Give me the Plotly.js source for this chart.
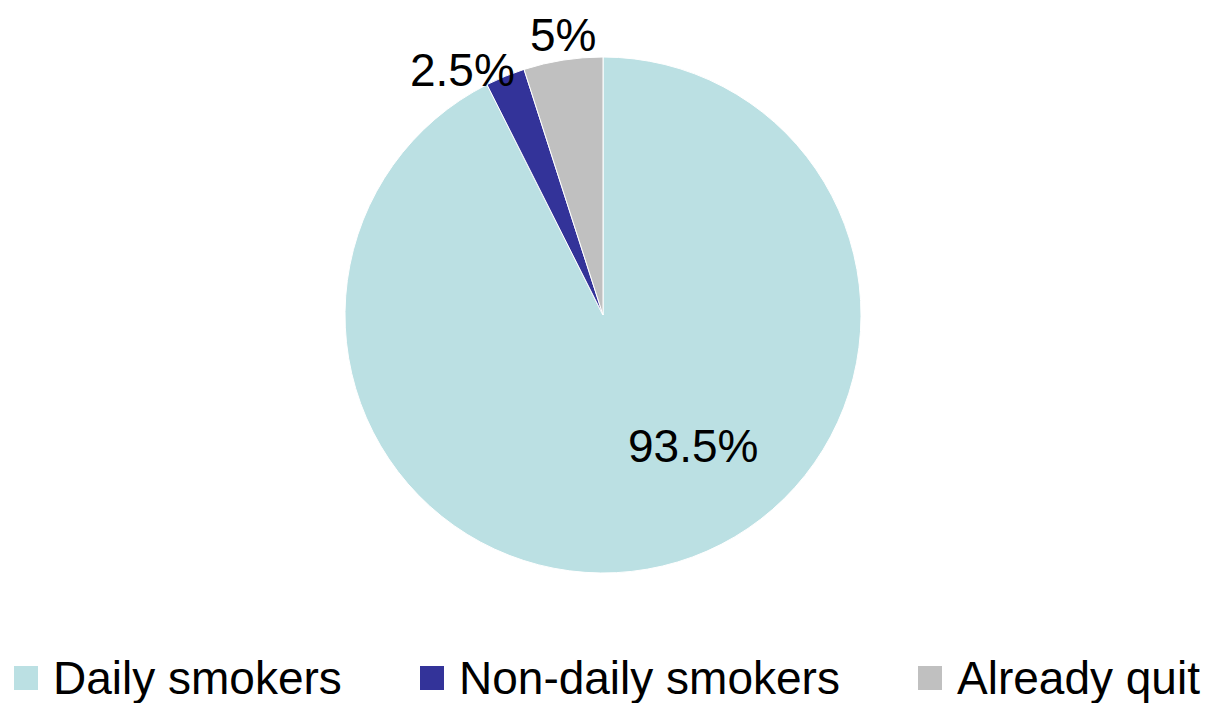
<!DOCTYPE html>
<html>
<head>
<meta charset="utf-8">
<script src="https://cdn.plot.ly/plotly-3.0.1.min.js"></script>
<style>html,body{margin:0;padding:0;background:#fff;}#chart{width:1213px;height:703px;}</style>
</head>
<body>
<div id="chart"></div>
<script>
const categories = ["Daily smokers", "Non-daily smokers", "Already quit"];
const values = [93.5, 2.5, 5];
const colors = ["#BBE0E3", "#333399", "#C0C0C0"];
const textLabels = values.map(v => v + "%");

const W = 1213, H = 703;
const M = {l: 345, r: 352, t: 57, b: 130};
const PW = W - M.l - M.r, PH = H - M.t - M.b;
const px2x = p => (p - M.l) / PW;
const px2y = p => (H - M.b - p) / PH;

const FONT = "Liberation Sans, Arial, sans-serif";

// label placement (pixel positions in the layout)
const labelPos = [[693, 446], [462, 70], [563, 35]];
const legendX = [14, 420, 918];

const shapes = [], annotations = [];
categories.forEach((c, i) => {
  shapes.push({type: "rect", xref: "paper", yref: "paper",
    x0: px2x(legendX[i]), x1: px2x(legendX[i] + 24),
    y0: px2y(666), y1: px2y(690),
    fillcolor: colors[i], line: {width: 0}});
  annotations.push({xref: "paper", yref: "paper", x: px2x(legendX[i] + 37), y: px2y(678),
    xanchor: "left", yanchor: "middle", showarrow: false, text: c,
    font: {family: FONT, size: 46, color: "#000"}});
  annotations.push({xref: "paper", yref: "paper", x: px2x(labelPos[i][0]), y: px2y(labelPos[i][1]),
    xanchor: "center", yanchor: "middle", showarrow: false, text: textLabels[i],
    font: {family: FONT, size: 46, color: "#000"}});
});

const trace = {
  type: "pie",
  labels: categories,
  values: values,
  textinfo: "none",
  sort: false,
  direction: "clockwise",
  rotation: 0,
  marker: {colors: colors, line: {color: "#ffffff", width: 1}},
  hoverinfo: "none",
  showlegend: false
};

Plotly.newPlot("chart", [trace], {
  width: W, height: H,
  margin: M,
  paper_bgcolor: "#fff",
  showlegend: false,
  shapes: shapes,
  annotations: annotations
}, {displayModeBar: false, staticPlot: true});
</script>
</body>
</html>
